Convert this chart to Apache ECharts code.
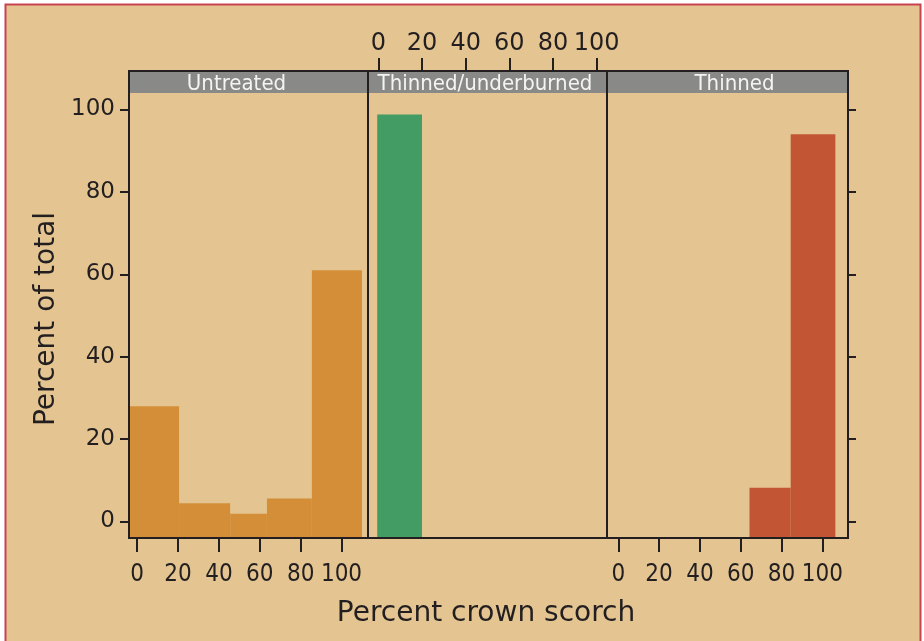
<!DOCTYPE html>
<html>
<head>
<meta charset="utf-8">
<script src="https://cdn.jsdelivr.net/npm/echarts@6/dist/echarts.min.js"></script>
<style>
  html, body { margin: 0; padding: 0; background: #fff; }
  #chart { width: 924px; height: 641px; }
</style>
</head>
<body>
<div id="chart"></div>
<script>
// panels of the lattice
const panels = ['Untreated', 'Thinned/underburned', 'Thinned'];

// histogram bins per panel: bin edges and percent of total
const untreatedEdges = [-4, 20.5, 45.5, 63.5, 85.5, 110];
const untreatedPct = [28, 4.4, 1.9, 5.6, 61];
const underburnedEdges = [-0.5, 20];
const underburnedPct = [98.8];
const thinnedEdges = [64.3, 84.5, 106.4];
const thinnedPct = [8.2, 94];

const ink = '#231f20';
const tan = '#e4c592';
const barColors = ['#d48e37', '#429c64', '#c25634'];
const yFloor = -4; // bars reach down to the panel floor

const toBins = (edges, pct) => pct.map((v, i) => [edges[i], edges[i + 1], v]);
const bins = [
    toBins(untreatedEdges, untreatedPct),
    toBins(underburnedEdges, underburnedPct),
    toBins(thinnedEdges, thinnedPct),
];

// panel frames (left, right) in px, and where 0 / 100 fall on each x scale
const boxes = [[129, 368], [368, 607], [607, 848]];
const boxTop = 71, boxBottom = 538, stripH = 22;
const stripTextX = [236.5, 485, 734.5];
const x0px = [137.2, 378.3, 618.3], x100px = [341.5, 596.7, 822.3];
const y0px = 521.5, y100px = 109.5;

const chart = echarts.init(document.getElementById('chart'));

const tick = (len) => ({ show: true, length: len, lineStyle: { color: ink, width: 2 } });
const noLine = { show: false, onZero: false };
const font = (condensed) => condensed ? "'DejaVu Sans Condensed', 'DejaVu Sans'" : "'DejaVu Sans'";

const xAxisFor = (k) => {
    const top = k === 1;
    return {
        gridIndex: k, type: 'value', min: 0, max: 100, interval: 20,
        position: top ? 'top' : 'bottom',
        offset: top ? y100px - boxTop : boxBottom - y0px,
        axisLine: noLine, splitLine: { show: false },
        axisTick: tick(top ? 13 : 14),
        axisLabel: {
            margin: top ? 15 : 25, color: ink, fontSize: 24,
            fontFamily: font(!top)
        }
    };
};

chart.setOption({
    backgroundColor: '#fff',
    animation: false,
    grid: boxes.map((b, k) => ({
        left: x0px[k], right: 924 - x100px[k], top: y100px, bottom: 641 - y0px,
        show: false
    })),
    xAxis: [0, 1, 2].map(xAxisFor),
    yAxis: [
        {
            gridIndex: 0, type: 'value', min: 0, max: 100, interval: 20, position: 'left',
            offset: x0px[0] - boxes[0][0],
            axisLine: noLine, splitLine: { show: false },
            axisTick: tick(9),
            axisLabel: { margin: 14, color: ink, fontSize: 23, fontFamily: font(false) }
        },
        {
            gridIndex: 1, type: 'value', min: 0, max: 100, interval: 20,
            axisLine: noLine, splitLine: { show: false },
            axisTick: { show: false }, axisLabel: { show: false }
        },
        {
            gridIndex: 2, type: 'value', min: 0, max: 100, interval: 20, position: 'right',
            offset: boxes[2][1] - x100px[2],
            axisLine: noLine, splitLine: { show: false },
            axisTick: tick(8), axisLabel: { show: false }
        }
    ],
    series: bins.map((data, k) => ({
        type: 'custom',
        xAxisIndex: k, yAxisIndex: k,
        clip: false,
        data: data,
        renderItem(params, api) {
            const p0 = api.coord([api.value(0), api.value(2)]);
            const p1 = api.coord([api.value(1), yFloor]);
            return {
                type: 'rect',
                shape: { x: p0[0], y: p0[1], width: p1[0] - p0[0], height: p1[1] - p0[1] },
                style: { fill: barColors[k] }
            };
        }
    })),
    graphic: [
        {
            type: 'rect', z: -100, silent: true,
            shape: { x: 5.5, y: 4.5, width: 915, height: 700 },
            style: { fill: tan, stroke: '#c8434f', lineWidth: 2 }
        },
        ...boxes.map((b, i) => ({
            type: 'rect', z: 100, silent: true,
            shape: { x: b[0], y: boxTop, width: b[1] - b[0], height: stripH },
            style: { fill: '#898a88' }
        })),
        ...boxes.map((b, i) => ({
            type: 'rect', z: 101, silent: true,
            shape: { x: b[0], y: boxTop, width: b[1] - b[0], height: boxBottom - boxTop },
            style: { fill: null, stroke: ink, lineWidth: 2 }
        })),
        ...boxes.map((b, i) => ({
            type: 'text', z: 102, silent: true,
            x: stripTextX[i], y: boxTop + stripH / 2 + 2,
            style: {
                text: panels[i], fill: '#f4f4f2', fontSize: 22,
                fontFamily: font(true), align: 'center', verticalAlign: 'middle'
            }
        })),
        {
            type: 'text', z: 102, silent: true,
            x: 486, y: 614,
            style: {
                text: 'Percent crown scorch', fill: ink, fontSize: 28,
                fontFamily: font(false), align: 'center', verticalAlign: 'middle'
            }
        },
        {
            type: 'text', z: 102, silent: true,
            x: 47, y: 319, rotation: Math.PI / 2,
            style: {
                text: 'Percent of total', fill: ink, fontSize: 28,
                fontFamily: font(false), align: 'center', verticalAlign: 'middle'
            }
        }
    ]
});
</script>
</body>
</html>
